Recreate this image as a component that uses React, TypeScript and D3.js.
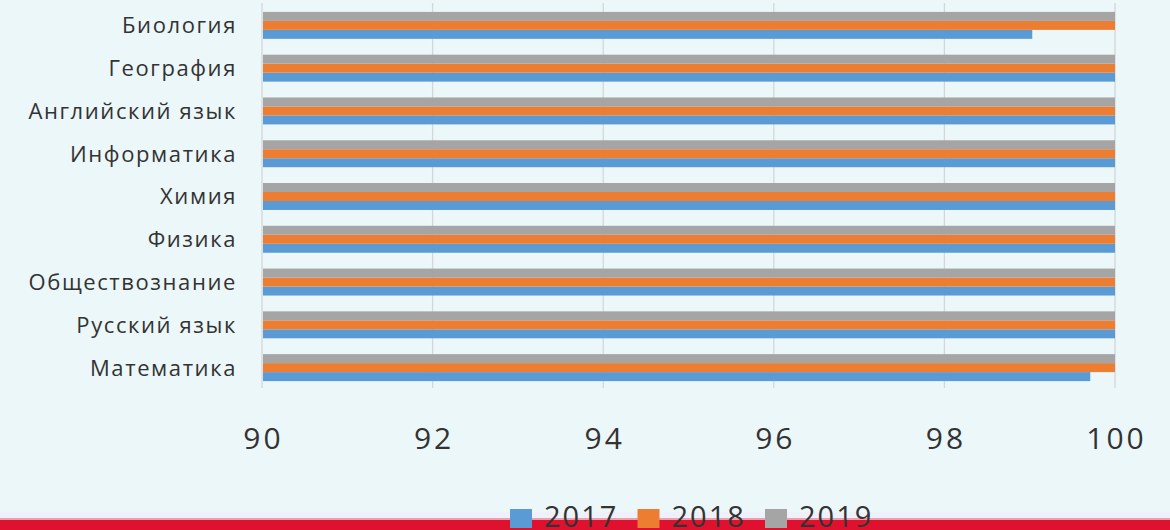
import * as d3 from "d3";

const categories = [
  "Биология",
  "География",
  "Английский язык",
  "Информатика",
  "Химия",
  "Физика",
  "Обществознание",
  "Русский язык",
  "Математика",
];
const years = ["2017", "2018", "2019"];
const values2017 = [99.03, 100, 100, 100, 100, 100, 100, 100, 99.71];
const values2018 = [100, 100, 100, 100, 100, 100, 100, 100, 100];
const values2019 = [100, 100, 100, 100, 100, 100, 100, 100, 100];
const xTicks = [90, 92, 94, 96, 98, 100];

const colors = ["#5b9bd5", "#ed7d31", "#a5a5a5"];

export default function App() {
  const width = 1170;
  const height = 530;
  const font = "'Open Sans', sans-serif";

  const x = d3.scaleLinear().domain([90, 100]).range([262, 1115]);
  const y = d3.scaleBand().domain(categories).range([4, 389]).paddingInner(0.37).paddingOuter(0.185);
  // series stacked bottom-to-top inside each band: 2017 lowest, 2019 on top
  const inner = d3.scaleBand().domain(["2019", "2018", "2017"]).range([0, y.bandwidth()]);

  const series = [values2017, values2018, values2019];

  return (
    <svg
      width={width}
      height={height}
      style={{ position: "fixed", left: 0, top: 0, display: "block" }}
    >
      <rect width={width} height={height} fill="#ecf7f9" />
      <rect x={0} y={512} width={width} height={8} fill="#eef0fb" />
      <rect x={0} y={518} width={width} height={2} fill="#e8a0aa" />
      <rect x={0} y={520} width={width} height={10} fill="#df112e" />

      {xTicks.map((t) => (
        <line
          key={t}
          x1={x(t)}
          x2={x(t)}
          y1={3}
          y2={388}
          stroke="#d4d7d9"
          strokeWidth={1.3}
        />
      ))}

      {categories.map((c, i) => (
        <g key={c}>
          {series.map((vals, s) => (
            <rect
              key={s}
              x={x(90) + 1}
              y={(y(c) as number) + (inner(years[s]) as number)}
              width={x(vals[i]) - x(90) - 1}
              height={inner.bandwidth()}
              fill={colors[s]}
            />
          ))}
          <text
            x={237}
            y={(y(c) as number) + y.bandwidth() / 2}
            dy="0.36em"
            textAnchor="end"
            fontFamily={font}
            fontSize={22}
            letterSpacing={1.6}
            fill="#333"
          >
            {c}
          </text>
        </g>
      ))}

      {xTicks.map((t) => (
        <text
          key={t}
          x={x(t) + 1.5}
          y={449}
          textAnchor="middle"
          fontFamily={font}
          fontSize={30}
          letterSpacing={3}
          fill="#333"
        >
          {t}
        </text>
      ))}

      {years.map((yr, i) => (
        <g key={yr} transform={`translate(${510 + i * 127.5},509)`}>
          <rect width={22} height={19} fill={colors[i]} />
          <text
            x={34}
            y={18}
            fontFamily={font}
            fontSize={29}
            letterSpacing={2}
            fill="#333"
          >
            {yr}
          </text>
        </g>
      ))}
    </svg>
  );
}
